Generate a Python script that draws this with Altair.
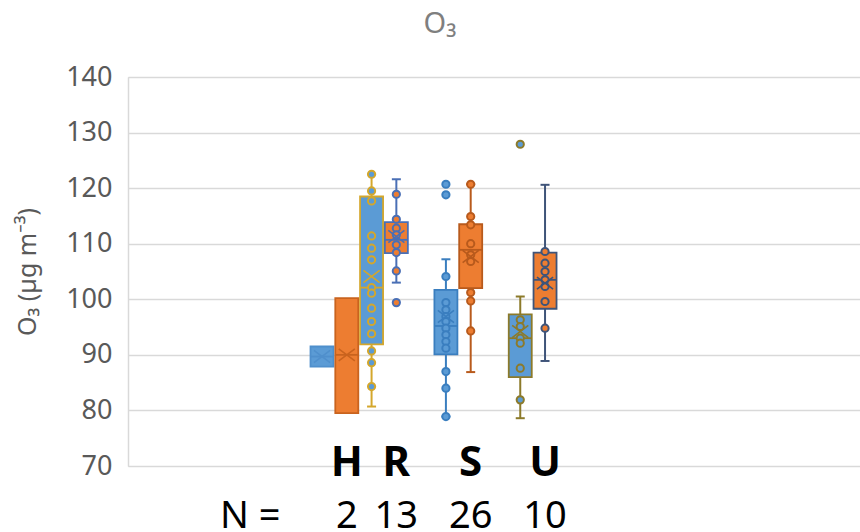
import altair as alt
import pandas as pd

# ---------------- data ----------------
BOXES = ["H-blue", "H-orange", "R-blue", "R-orange", "S-blue", "S-orange", "U-blue", "U-orange"]
CORE_SLOTS = ["H-blue", "H-orange", "R-blue", "R-orange", "gap1", "S-blue", "S-orange", "gap2", "U-blue", "U-orange"]

Q1 = [87.9, 79.5, 91.9, 108.3, 90.1, 102.0, 86.0, 98.3]
Q3 = [91.5, 100.2, 118.5, 113.9, 101.7, 113.5, 97.3, 108.4]
MEDIAN = [89.7, 90.0, 102.1, 110.7, 95.2, 108.9, 93.0, 103.5]
MEAN = [89.7, 90.0, 104.1, 111.3, 96.9, 107.7, 94.2, 102.9]
WHISK_LO = [None, None, 80.7, 103.0, 78.9, 86.9, 78.6, 88.9]
WHISK_HI = [None, None, 122.5, 121.6, 107.2, 120.7, 100.5, 120.6]

POINTS = {
    "H-blue": [],
    "H-orange": [],
    "R-blue": [122.5, 119.5, 117.7, 111.4, 109.2, 107.1, 102.1, 101.1, 98.4, 96.0, 93.8, 90.7, 88.6, 84.3],
    "R-orange": [118.9, 114.4, 112.8, 111.6, 109.8, 108.4, 105.1, 99.4],
    "S-blue": [120.7, 118.8, 104.1, 99.4, 98.1, 96.9, 96.0, 94.8, 93.6, 92.4, 91.2, 87.0, 84.0, 78.9],
    "S-orange": [120.7, 114.9, 113.4, 110.0, 108.0, 106.8, 101.2, 99.7, 94.3],
    "U-blue": [127.9, 96.3, 95.1, 93.0, 92.1, 87.6, 81.9],
    "U-orange": [108.6, 106.5, 105.0, 103.5, 102.3, 99.6, 94.8],
}

GROUPS = ["H", "R", "S", "U"]
N_VALUES = [2, 13, 26, 10]
Y_TICKS = [70, 80, 90, 100, 110, 120, 130, 140]

# ---------------- layout / styles ----------------
# empty category slots around the boxes (category axis is wider than the data)
SLOTS = [f"padL{i}" for i in range(7)] + CORE_SLOTS + [f"padR{i}" for i in range(12)]
FILL_COLORS = ["#5B9BD5", "#ED7D31", "#5B9BD5", "#ED7D31", "#5B9BD5", "#ED7D31", "#5B9BD5", "#ED7D31"]
BORDER_COLORS = ["#4F8FCC", "#C9631E", "#D4A72C", "#4A6FB5", "#3A7EBF", "#B85A1C", "#8C7A2A", "#3F5479"]
FONT = "Noto Sans"

box_df = pd.DataFrame({
    "box": BOXES, "q1": Q1, "q3": Q3, "median": MEDIAN, "mean": MEAN,
    "lo": WHISK_LO, "hi": WHISK_HI,
})
pts_df = pd.DataFrame(
    [{"box": b, "value": v} for b in BOXES for v in POINTS[b]]
)
lab_df = pd.DataFrame({
    "group": GROUPS,
    "n": [str(n) for n in N_VALUES],
    "box": [g + "-orange" for g in GROUPS],
})

xenc = alt.X("box:N", scale=alt.Scale(domain=SLOTS, paddingInner=0, paddingOuter=0.27, align=0.61), axis=None)
yscale = alt.Scale(domain=[70, 140], nice=False, zero=False)
fill_enc = alt.Fill("box:N", scale=alt.Scale(domain=BOXES, range=FILL_COLORS), legend=None)
stroke_enc = alt.Stroke("box:N", scale=alt.Scale(domain=BOXES, range=BORDER_COLORS), legend=None)
color_enc = alt.Color("box:N", scale=alt.Scale(domain=BOXES, range=BORDER_COLORS), legend=None)

yaxis = alt.Axis(
    values=Y_TICKS, grid=True, gridColor="#D9D9D9", gridWidth=1.5,
    domain=True, domainColor="#D9D9D9", domainWidth=1.5, ticks=False,
    labelFont=FONT, labelFontSize=27, labelColor="#595959", labelPadding=16,
    title="O₃ (µg m⁻³)", titleFont=FONT, titleFontSize=25, titleFontWeight="normal",
    titleColor="#595959", titleAngle=-90, titleX=-93, titleY=194.5,
    titleAlign="center", titleBaseline="alphabetic",
)

base = alt.Chart(box_df)

whisk_lo = base.transform_filter("isValid(datum.lo)").mark_rule(strokeWidth=2).encode(
    x=xenc, y=alt.Y("lo:Q", scale=yscale, axis=yaxis), y2="q1:Q", color=color_enc)
whisk_hi = base.transform_filter("isValid(datum.hi)").mark_rule(strokeWidth=2).encode(
    x=xenc, y=alt.Y("q3:Q", scale=yscale), y2="hi:Q", color=color_enc)
cap_lo = base.transform_filter("isValid(datum.lo)").mark_tick(size=9, thickness=2, opacity=1).encode(
    x=xenc, y=alt.Y("lo:Q", scale=yscale), color=color_enc)
cap_hi = base.transform_filter("isValid(datum.hi)").mark_tick(size=9, thickness=2, opacity=1).encode(
    x=xenc, y=alt.Y("hi:Q", scale=yscale), color=color_enc)

boxes = base.mark_bar(size=23, strokeWidth=1.8).encode(
    x=xenc, y=alt.Y("q1:Q", scale=yscale), y2="q3:Q", fill=fill_enc, stroke=stroke_enc)
medians = base.mark_tick(size=23, thickness=1.8, opacity=1).encode(
    x=xenc, y=alt.Y("median:Q", scale=yscale), color=color_enc)
means = base.mark_point(shape="M-1,-0.75L1,0.75M-1,0.75L1,-0.75", size=260, filled=False,
                        strokeWidth=1.6, opacity=1).encode(
    x=xenc, y=alt.Y("mean:Q", scale=yscale), stroke=stroke_enc)

points = alt.Chart(pts_df).mark_point(shape="circle", filled=True, size=52, strokeWidth=2, opacity=1).encode(
    x=xenc, y=alt.Y("value:Q", scale=yscale), fill=fill_enc, stroke=stroke_enc)

grp_text = alt.Chart(lab_df).mark_text(font=FONT, fontSize=42, fontWeight="bold", color="black",
                                       baseline="alphabetic", align="center").encode(
    x=xenc, y=alt.value(399), text="group:N")
n_text = alt.Chart(lab_df).mark_text(font=FONT, fontSize=38, color="black",
                                     baseline="alphabetic", align="center").encode(
    x=xenc, y=alt.value(451), text="n:N")
n_label = alt.Chart(pd.DataFrame({"t": ["N  ="]})).mark_text(font=FONT, fontSize=38, color="black",
                                                             baseline="alphabetic", align="left").encode(
    x=alt.value(92), y=alt.value(451), text="t:N")

chart = alt.layer(
    whisk_lo, whisk_hi, cap_lo, cap_hi, boxes, medians, points, means, grp_text, n_text, n_label
).properties(
    width=732, height=389,
    autosize=alt.AutoSizeParams(type="none"),
    padding={"left": 128, "top": 77, "right": 0, "bottom": 66},
    title=alt.TitleParams(text="O₃", font=FONT, fontSize=29, fontWeight="normal", color="#7F7F7F",
                          frame="group", anchor="middle", dx=-54, offset=24),
).configure_view(stroke=None).configure(background="white")

chart.save("out.html", embed_options={"renderer": "svg", "actions": False})
